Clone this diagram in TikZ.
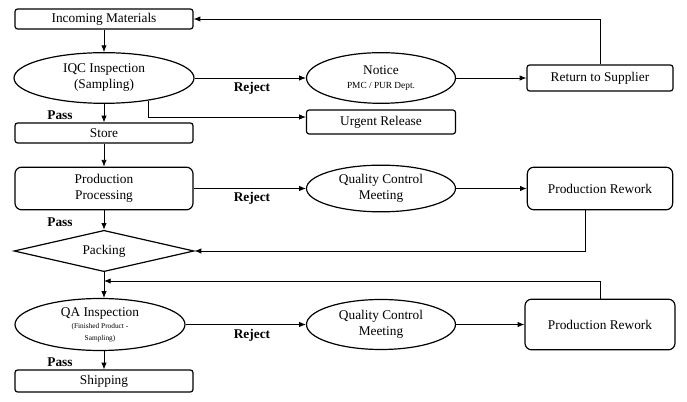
\documentclass[tikz,border=0pt]{standalone}
\usepackage{fontspec}
\setmainfont{Liberation Serif}
\usetikzlibrary{arrows.meta,positioning,shapes.geometric}

\begin{document}
\begin{tikzpicture}[x=0.75pt, y=-0.75pt,
  flowbox/.style={draw, rounded corners=2pt, line width=0.9pt, minimum width=133.5pt,
                  minimum height=15pt, inner sep=1pt, align=center,
                  font=\fontsize{10}{12}\selectfont},
  bigbox/.style={flowbox, rounded corners=5pt, minimum height=32pt},
  oval/.style={draw, ellipse, line width=0.9pt, minimum width=111.75pt, minimum height=38pt,
               inner sep=0pt, align=center, font=\fontsize{10}{12}\selectfont},
  gate/.style={draw, diamond, aspect=4.4, line width=0.9pt, minimum width=135pt,
               minimum height=31pt, inner sep=0pt, font=\fontsize{10}{12}\selectfont},
  link/.style={-{Latex[length=5pt,width=4pt]}, line width=0.6pt},
  tag/.style={font=\fontsize{10}{12}\selectfont\bfseries}]
  \useasboundingbox (0,0) rectangle (687,402);

  \node[flowbox] (inc) at (104,19) {Incoming Materials};
  \node[oval, minimum width=135pt] (iqc) at (104,78) {IQC Inspection\\(Sampling)};
  \node[oval] (notice) at (381,78) {Notice\\[-2pt]{\fontsize{7}{8}\selectfont PMC / PUR Dept.}};
  \node[flowbox, minimum width=109.5pt, minimum height=19.5pt] (ret) at (600,78) {Return to Supplier};
  \node[flowbox, minimum width=111.75pt, minimum height=18pt] (urg) at (381,122) {Urgent Release};
  \node[flowbox] (store) at (104,133) {Store};

  \node[bigbox] (proc) at (104,188.5) {Production\\Processing};
  \node[oval, minimum height=35pt] (qcm1) at (381,188.5) {Quality Control\\Meeting};
  \node[bigbox, minimum width=109pt] (rw1) at (600,188.5) {Production Rework};
  \node[gate] (pack) at (104,251) {Packing};

  \node[oval, minimum width=127.5pt, minimum height=39pt] (qa) at (100,324.5)
       {QA Inspection\\[-3pt]{\fontsize{5.5}{7}\selectfont (Finished Product -}\\[-3pt]{\fontsize{5.5}{7}\selectfont Sampling)}};
  \node[oval, minimum height=37.5pt] (qcm2) at (381,324.5) {Quality Control\\Meeting};
  \node[bigbox, minimum width=112.5pt, minimum height=38pt] (rw2) at (600,324.5) {Production Rework};
  \node[flowbox, minimum height=16.5pt] (ship) at (104,381) {Shipping};

  \node[tag] (rej1) at (252,88) {Reject};
  \node[tag] (rej2) at (252,198) {Reject};
  \node[tag] (rej3) at (252,335) {Reject};
  \node[tag] (pass1) at (60,115) {Pass};
  \node[tag] (pass2) at (60,222) {Pass};
  \node[tag] (pass3) at (60,362) {Pass};

  \coordinate (merge) at (104,281);

  \draw[link] (inc) -- (iqc);
  \draw[link] (iqc) -- (store);
  \draw[link] (iqc) -- (notice);
  \draw[link] (notice) -- (ret);
  \draw[link] (ret.north) |- (inc.east);
  \draw[link] (iqc.-27) |- ([yshift=3.75pt]urg.west);
  \draw[link] (store) -- (proc);
  \draw[link] (proc) -- (qcm1);
  \draw[link] (qcm1) -- (rw1);
  \draw[link] ([xshift=-11pt]rw1.south) |- (pack.east);
  \draw[link] (proc) -- (pack);
  \draw[link] (pack.south) -- (pack.south |- qa.north);
  \draw[link] (rw2.north) |- (merge);
  \draw[link] (qa) -- (qcm2);
  \draw[link] (qcm2) -- (rw2);
  \draw[link] (ship.north |- qa.south) -- (ship.north);
\end{tikzpicture}
\end{document}
